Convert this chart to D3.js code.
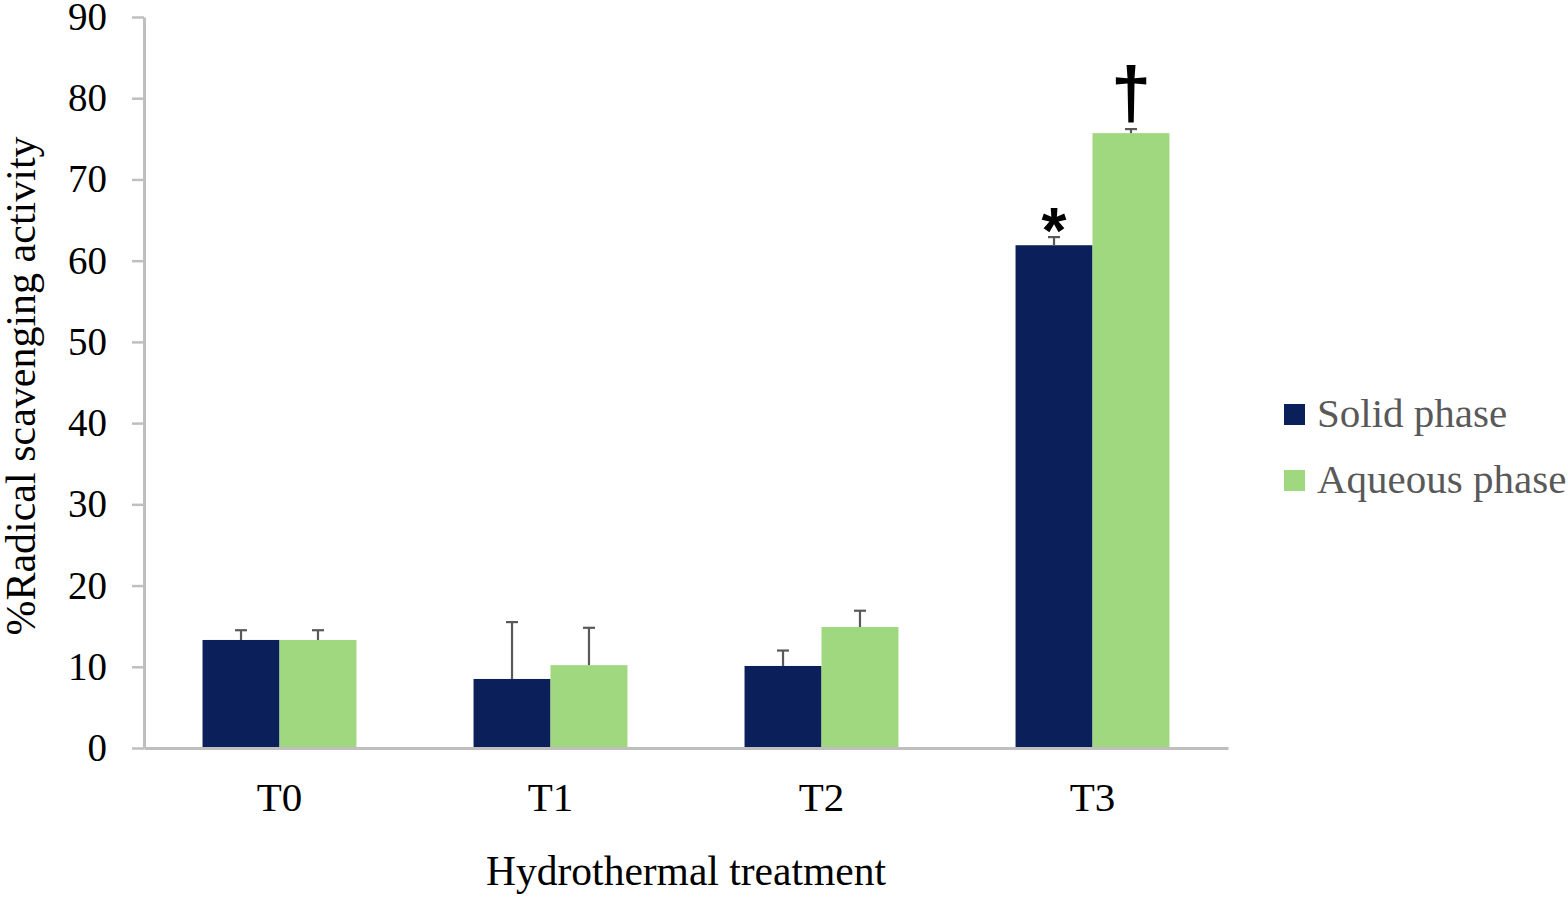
<!DOCTYPE html>
<html>
<head>
<meta charset="utf-8">
<script src="https://cdn.jsdelivr.net/npm/d3@7"></script>
<style>
  body { margin: 0; background: #fff; }
  svg { display: block; font-family: "Liberation Serif", "Times New Roman", serif; }
</style>
</head>
<body>
<div id="chart"></div>
<script>
var treatments = ["T0", "T1", "T2", "T3"];
var series = ["Solid phase", "Aqueous phase"];
var solidValues = [13.3, 8.5, 10.1, 61.9];
var solidErrors = [1.2, 7.0, 1.9, 1.0];
var aqueousValues = [13.3, 10.2, 14.9, 75.7];
var aqueousErrors = [1.2, 4.6, 2.0, 0.5];
var yTicks = [0, 10, 20, 30, 40, 50, 60, 70, 80, 90];
// significance marks: [treatment, series, symbol]
var marks = [["T3", "Solid phase", "*"], ["T3", "Aqueous phase", "\u2020"]];

var width = 1568,
    height = 897;
var margin = { top: 17, right: 340, bottom: 149, left: 144 };

var colors = d3.scaleOrdinal()
    .domain(series)
    .range(["#0b1f5b", "#a0d87f"]);

var rows = [];
treatments.forEach(function (t, i) {
    rows.push({ t: t, s: series[0], v: solidValues[i], e: solidErrors[i] });
    rows.push({ t: t, s: series[1], v: aqueousValues[i], e: aqueousErrors[i] });
});

var svg = d3.select("#chart")
    .append("svg")
    .attr("width", width)
    .attr("height", height);

var x0 = d3.scaleBand()
    .domain(treatments)
    .range([margin.left, width - margin.right])
    .paddingInner(0.432)
    .paddingOuter(0.216);

var x1 = d3.scaleBand()
    .domain(series)
    .range([0, x0.bandwidth()]);

var y = d3.scaleLinear()
    .domain([0, 90])
    .range([height - margin.bottom, margin.top]);

// y axis
var yAxis = svg.append("g")
    .attr("transform", "translate(" + margin.left + ",0)")
    .call(d3.axisLeft(y).tickValues(yTicks).tickSize(12).tickSizeOuter(0).tickPadding(25));
yAxis.select(".domain").attr("stroke", "#bfbfbf").attr("stroke-width", 3);
yAxis.selectAll(".tick line").attr("stroke", "#bfbfbf").attr("stroke-width", 2.5);
yAxis.selectAll(".tick text")
    .attr("font-family", "Liberation Serif")
    .attr("font-size", "39px")
    .attr("fill", "#000");

// bars
svg.append("g")
    .selectAll("rect")
    .data(rows)
    .enter()
    .append("rect")
    .attr("x", d => x0(d.t) + x1(d.s))
    .attr("y", d => y(d.v))
    .attr("width", x1.bandwidth())
    .attr("height", d => y(0) - y(d.v))
    .attr("fill", d => colors(d.s));

// error bars (upper only)
var err = svg.append("g")
    .attr("stroke", "#595959")
    .attr("stroke-width", 2.2);
err.selectAll("line.stem")
    .data(rows)
    .enter()
    .append("line")
    .attr("class", "stem")
    .attr("x1", d => x0(d.t) + x1(d.s) + x1.bandwidth() / 2)
    .attr("x2", d => x0(d.t) + x1(d.s) + x1.bandwidth() / 2)
    .attr("y1", d => y(d.v))
    .attr("y2", d => y(d.v + d.e));
err.selectAll("line.cap")
    .data(rows)
    .enter()
    .append("line")
    .attr("class", "cap")
    .attr("x1", d => x0(d.t) + x1(d.s) + x1.bandwidth() / 2 - 6)
    .attr("x2", d => x0(d.t) + x1(d.s) + x1.bandwidth() / 2 + 6)
    .attr("y1", d => y(d.v + d.e))
    .attr("y2", d => y(d.v + d.e));

// x axis
var xAxis = svg.append("g")
    .attr("transform", "translate(0," + y(0) + ")")
    .call(d3.axisBottom(x0).tickSize(0).tickPadding(34));
xAxis.select(".domain").attr("stroke", "#bfbfbf").attr("stroke-width", 3);
xAxis.selectAll(".tick text")
    .attr("font-family", "Liberation Serif")
    .attr("font-size", "41px")
    .attr("fill", "#000");

// significance symbols
function findRow(t, s) {
    return rows.filter(r => r.t === t && r.s === s)[0];
}
svg.append("g")
    .selectAll("text")
    .data(marks)
    .enter()
    .append("text")
    .attr("x", d => x0(d[0]) + x1(d[1]) + x1.bandwidth() / 2)
    .attr("y", function (d) {
        var r = findRow(d[0], d[1]);
        return d[2] === "*" ? y(r.v + r.e) + 16 : y(r.v + r.e) - 11;
    })
    .attr("text-anchor", "middle")
    .attr("font-family", "Liberation Sans")
    .attr("font-weight", "bold")
    .attr("font-size", d => d[2] === "*" ? "64px" : "72px")
    .attr("fill", "#000")
    .text(d => d[2]);

// axis titles
svg.append("text")
    .attr("x", (margin.left + width - margin.right) / 2)
    .attr("y", 885)
    .attr("text-anchor", "middle")
    .attr("font-size", "41.5px")
    .attr("fill", "#000")
    .text("Hydrothermal treatment");

svg.append("text")
    .attr("transform", "translate(35," + 386 + ") rotate(-90)")
    .attr("text-anchor", "middle")
    .attr("font-size", "42px")
    .attr("fill", "#000")
    .text("%Radical scavenging activity");

// legend
var legend = svg.append("g")
    .attr("transform", "translate(1284,404)");
var item = legend.selectAll("g")
    .data(series)
    .enter()
    .append("g")
    .attr("transform", (d, i) => "translate(0," + i * 66 + ")");
item.append("rect")
    .attr("width", 21)
    .attr("height", 21)
    .attr("fill", d => colors(d));
item.append("text")
    .attr("x", 33)
    .attr("y", 23)
    .attr("font-size", "41px")
    .attr("fill", "#595959")
    .text(d => d);
</script>
</body>
</html>
